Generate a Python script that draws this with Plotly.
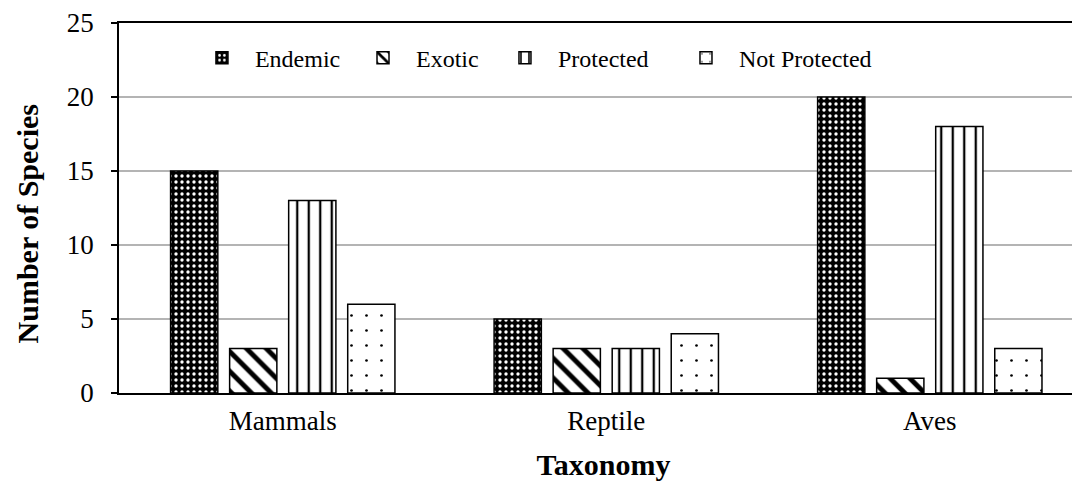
import plotly.graph_objects as go

categories = ["Mammals", "Reptile", "Aves"]
endemic = [15, 5, 20]
exotic = [3, 3, 1]
protected = [13, 3, 18]
not_protected = [6, 4, 3]
y_ticks = [0, 5, 10, 15, 20, 25]

FONT = "Liberation Serif, Times New Roman, serif"

series = [
    ("Endemic", endemic, dict(shape=".", bgcolor="black", fgcolor="white", size=6, solidity=0.25, fillmode="replace")),
    ("Exotic", exotic, dict(shape="\\", bgcolor="white", fgcolor="black", size=14, solidity=0.35, fillmode="replace")),
    ("Protected", protected, dict(shape="|", bgcolor="white", fgcolor="black", size=11.5, solidity=0.2, fillmode="replace")),
    ("Not Protected", not_protected, dict(shape=".", bgcolor="white", fgcolor="black", size=15, solidity=0.025, fillmode="replace")),
]
legend_names = ["legend", "legend2", "legend3", "legend4"]
legend_x = [0.0722, 0.2384, 0.3849, 0.5717]

fig = go.Figure()
for (name, vals, pat), lg in zip(series, legend_names):
    fig.add_trace(go.Bar(
        x=categories, y=vals, name=name, legend=lg,
        marker=dict(color="white", line=dict(color="black", width=1.5), pattern=pat),
    ))

legend_common = dict(orientation="h", y=0.905, xanchor="left", yanchor="middle",
                     font=dict(family=FONT, size=24), bgcolor="rgba(0,0,0,0)",
                     itemwidth=56, borderwidth=0)
layout_legends = {}
for lg, lx in zip(legend_names, legend_x):
    layout_legends[lg] = dict(legend_common, x=lx)

fig.update_layout(
    width=1080, height=484,
    margin=dict(l=111, r=0, t=15, b=99),
    paper_bgcolor="white", plot_bgcolor="white",
    barmode="group", bargap=0.27, bargroupgap=0.2,
    font=dict(family=FONT, size=27, color="black"),
    showlegend=True,
    xaxis=dict(range=[-0.5062, 2.489], showline=True, linecolor="black", linewidth=1.5,
               mirror=True, ticks="", showgrid=False, ticklabelstandoff=3,
               title=dict(text="<b>Taxonomy</b>", font=dict(family=FONT, size=30), standoff=19),
               tickfont=dict(family=FONT, size=27), automargin=False),
    yaxis=dict(range=[0, 25], tickvals=y_ticks, showline=True, linecolor="black", linewidth=1.5,
               ticks="outside", ticklen=6, tickwidth=1.5, tickcolor="black", ticklabelstandoff=12,
               ticklabeloverflow="allow",
               showgrid=True, gridcolor="#b4b4b4", gridwidth=1.5, zeroline=False,
               tickfont=dict(family=FONT, size=27), automargin=False),
    annotations=[dict(text="<b>Number of Species</b>", xref="paper", yref="paper",
                      x=-0.094, y=0.458, xanchor="center", yanchor="middle",
                      textangle=-90, showarrow=False, borderpad=0,
                      font=dict(family=FONT, size=30))],
    **layout_legends,
)

fig.write_html("out.html")
